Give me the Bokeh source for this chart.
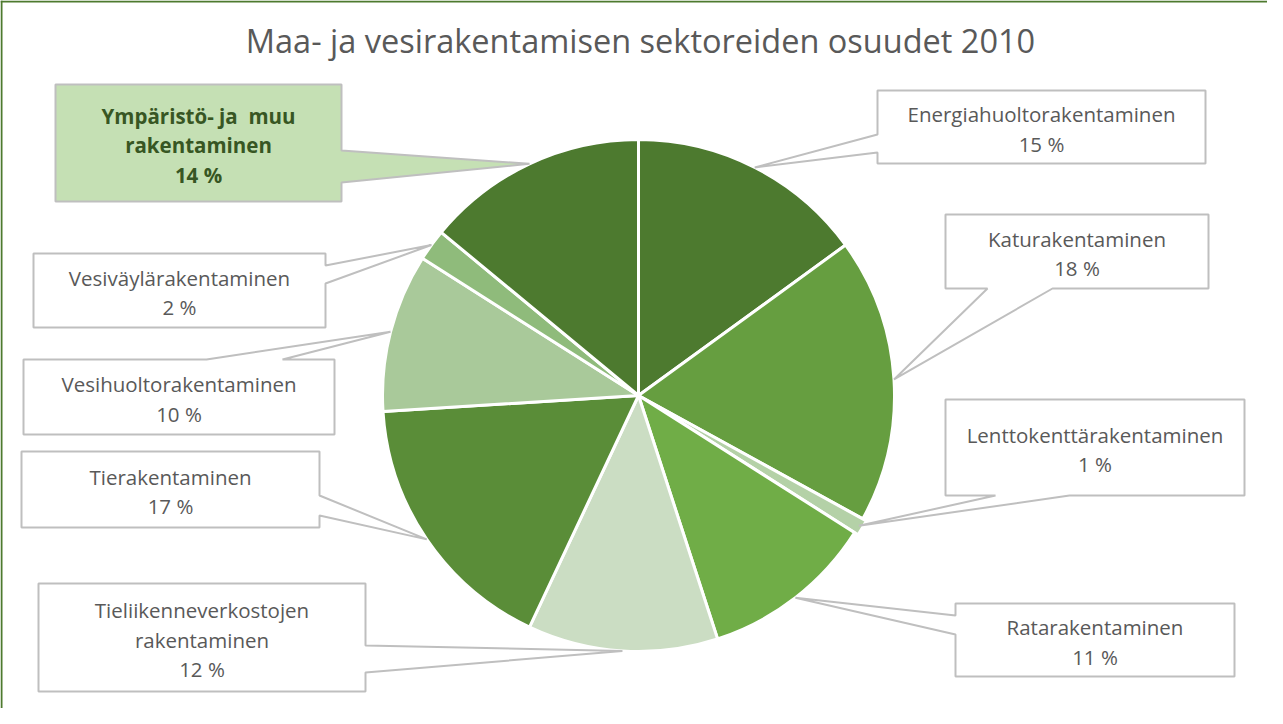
import math
from bokeh.plotting import figure
from bokeh.models import Range1d
from bokeh.core.properties import value
from bokeh.embed import file_html
from bokeh.resources import INLINE

# ---------------- data ----------------
title_text = "Maa- ja vesirakentamisen sektoreiden osuudet 2010"
categories = [
    "Energiahuoltorakentaminen",
    "Katurakentaminen",
    "Lenttokenttärakentaminen",
    "Ratarakentaminen",
    "Tieliikenneverkostojen\nrakentaminen",
    "Tierakentaminen",
    "Vesihuoltorakentaminen",
    "Vesiväylärakentaminen",
    "Ympäristö- ja  muu\nrakentaminen",
]
shares = [15, 18, 1, 11, 12, 17, 10, 2, 14]
colors = ["#4d7a2f", "#669e40", "#b4d1a7", "#70ad47", "#cbddc3",
          "#5a8d38", "#a9c99a", "#8fbb7b", "#4d7a2f"]

# ---------------- layout (screen pixels) ----------------
W, H = 1267, 708
CX, CY, R = 646, 403, 256          # pie centre / radius (screen px)
explode = [0, 0, 4, 0, 0, 0, 0, 0, 0]
# label boxes: x0, y0, x1, y1, side of pointer, base positions on that side
boxes = [
    (885, 98, 1213, 171, "left", 142, 160),
    (953, 222, 1216, 296, "bottom", 995, 1060),
    (953, 407, 1252, 503, "bottom", 1003, 1077),
    (963, 611, 1242, 684, "left", 623, 642),
    (46, 591, 373, 699, "right", 653, 680),
    (29, 459, 327, 535, "right", 503, 523),
    (31, 367, 342, 442, "top", 214, 290),
    (41, 261, 333, 335, "right", 273, 291),
    (63, 92, 349, 209, "right", 158, 190),
]
highlight = 8  # index of emphasised label


def Y(sy):
    return 724 - sy


p = figure(width=W, height=H, output_backend="svg", toolbar_location=None,
           x_range=Range1d(8, 8 + W), y_range=Range1d(724 - 8 - H, 724 - 8),
           min_border=0, outline_line_color=None, background_fill_color="white",
           border_fill_color="white")
p.axis.visible = False
p.grid.visible = False

# frame (left and top edges)
p.line([9, 9], [Y(8), Y(724)], line_color="#4e7a2f", line_width=2)
p.line([8, 8 + W], [Y(9), Y(9)], line_color="#4e7a2f", line_width=2)

# title
p.text(x=[648], y=[Y(48)], text=[title_text], text_align="center",
       text_baseline="middle", text_font=value("Open Sans"),
       text_font_size="32.5px", text_color="#595959")

# pie
total = sum(shares)
cum = 0
mids = []
for i, v in enumerate(shares):
    a0 = math.pi / 2 - 2 * math.pi * cum / total
    a1 = math.pi / 2 - 2 * math.pi * (cum + v) / total
    mid = 2 * math.pi * (cum + v / 2) / total  # clockwise from top
    mids.append(mid)
    ox = explode[i] * math.sin(mid)
    oy = explode[i] * math.cos(mid)
    p.wedge(x=[CX + ox], y=[Y(CY) + oy], radius=R, start_angle=a0, end_angle=a1,
            direction="clock", fill_color=colors[i], line_color="white",
            line_width=3)
    cum += v

# callouts
for i, (x0, y0, x1, y1, side, b1, b2) in enumerate(boxes):
    tx = CX + R * math.sin(mids[i])
    ty = CY - R * math.cos(mids[i])
    pts = [(x0, y0)]
    if side == "top":
        pts += [(b1, y0), (tx, ty), (b2, y0)]
    pts += [(x1, y0)]
    if side == "right":
        pts += [(x1, b1), (tx, ty), (x1, b2)]
    pts += [(x1, y1)]
    if side == "bottom":
        pts += [(b2, y1), (tx, ty), (b1, y1)]
    pts += [(x0, y1)]
    if side == "left":
        pts += [(x0, b2), (tx, ty), (x0, b1)]
    fill = "#c5e0b4" if i == highlight else "white"
    p.patch([q[0] for q in pts], [Y(q[1]) for q in pts], fill_color=fill,
            line_color="#bfbfbf", line_width=2)

    lines = [s.replace("  ", " \u00a0") for s in categories[i].split("\n")]
    lines += [f"{shares[i]}\u00a0%"]
    n = len(lines)
    step = 29.5
    cyb = (y0 + y1) / 2 + 2
    xs = [(x0 + x1) / 2] * n
    ys = [Y(cyb + (k - (n - 1) / 2) * step) for k in range(n)]
    p.text(x=xs, y=ys, text=lines, text_align="center", text_baseline="middle",
           text_font=value("Open Sans"), text_font_size="20.5px",
           text_font_style="bold" if i == highlight else "normal",
           text_color="#375623" if i == highlight else "#595959")

open("out.html", "w").write(file_html(p, INLINE))
